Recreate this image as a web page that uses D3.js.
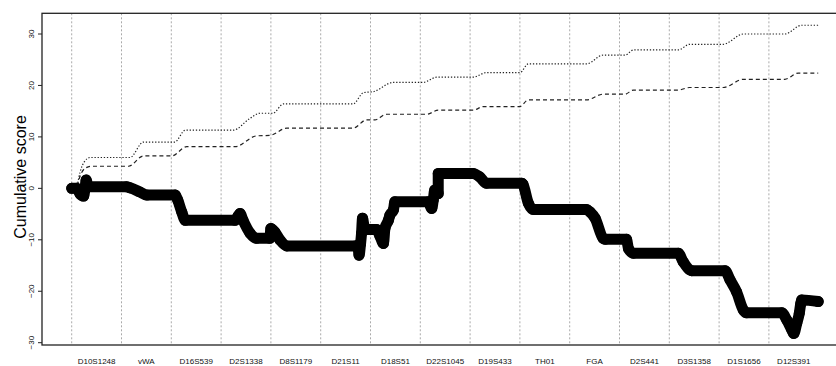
<!DOCTYPE html>
<html><head><meta charset="utf-8">
<script src="https://cdn.jsdelivr.net/npm/d3@7"></script>
<style>body{margin:0;background:#fff}svg{display:block}text{font-family:"Liberation Sans",Arial,sans-serif}</style>
</head><body><svg id="c" width="836" height="366"></svg>
<script>
const markers = ["D10S1248","vWA","D16S539","D2S1338","D8S1179","D21S11","D18S51","D22S1045","D19S433","TH01","FGA","D2S441","D3S1358","D1S1656","D12S391"];
const yTicks = [-30,-20,-10,0,10,20,30];

// cumulative score (x in marker units, y score)
const scoreX = [0,0.1,0.17,0.24,0.27,0.29,0.33,1.1,1.17,1.37,1.51,2.08,2.13,2.21,2.28,3.28,3.34,3.38,3.44,3.58,3.71,3.98,4.0,4.08,4.18,4.32,5.69,5.75,5.77,5.80,5.82,5.84,5.87,5.92,6.12,6.19,6.26,6.29,6.36,6.39,6.46,6.49,7.16,7.23,7.26,7.29,7.36,7.36,8.06,8.19,8.33,9.04,9.06,9.17,9.27,10.34,10.41,10.51,10.67,10.71,11.14,11.18,11.28,12.18,12.28,12.45,13.12,13.22,13.35,13.49,13.55,14.26,14.36,14.46,14.50,14.56,14.61,14.64,14.66,14.99];
const scoreY = [0,0,-1.1,-1.5,0.2,1.6,0.3,0.3,0.1,-0.7,-1.3,-1.3,-2.3,-4.6,-6.2,-6.2,-5.4,-4.9,-6.2,-8.7,-9.7,-9.7,-7.8,-8.5,-10.0,-11.2,-11.2,-11.35,-13.0,-10.8,-8.75,-5.8,-7.3,-8.0,-8.0,-9.3,-10.7,-7.8,-6.2,-5.2,-4.2,-2.6,-2.6,-3.9,-2.3,-0.3,-1.0,2.9,2.9,2.25,1.0,1.0,0.8,-2.9,-4.1,-4.1,-4.6,-5.8,-9.7,-9.9,-9.9,-11.7,-12.6,-12.6,-14.3,-16.0,-16.0,-17.8,-20.1,-23.7,-24.2,-24.2,-25.6,-27.5,-28.2,-26.2,-24.3,-22.4,-21.7,-22.0];

// upper threshold (dotted)
const upperX = [0.11,0.17,0.25,0.37,1.17,1.44,2.07,2.28,3.24,3.58,3.78,4.04,4.25,5.65,5.86,6.06,6.46,7.06,7.33,8.06,8.33,9.0,9.17,10.34,10.67,11.11,11.28,12.18,12.41,13.08,13.49,14.32,14.66,14.99];
const upperY = [0.45,3.2,5.1,6.0,6.0,9.0,9.0,11.3,11.3,13.6,14.6,14.6,16.4,16.4,18.6,18.8,20.6,20.6,21.6,21.6,22.5,22.5,24.2,24.2,25.9,25.9,26.9,26.9,28.0,28.0,30.0,30.0,31.7,31.7];

// lower threshold (dashed)
const lowerX = [0.11,0.17,0.27,0.40,1.14,1.44,2.01,2.31,3.28,3.71,3.98,4.32,5.65,5.92,6.09,6.32,7.13,7.36,8.06,8.27,9.0,9.17,10.34,10.67,11.11,11.28,12.18,12.41,13.08,13.49,14.32,14.59,14.99];
const lowerY = [0.45,2.4,3.9,4.3,4.3,6.3,6.3,8.1,8.1,10.2,10.3,11.7,11.7,13.3,13.3,14.4,14.4,15.2,15.2,15.9,15.9,17.2,17.2,18.3,18.3,19.1,19.1,19.6,19.6,21.2,21.2,22.4,22.4];

const svg = d3.select("#c");
const x = d3.scaleLinear().domain([0, 15]).range([71.7, 818.7]);
const y = d3.scaleLinear().domain([-30, 30]).range([342.7, 34]);
const pTop = 13.3, pBottom = 345, pLeft = 42, pRight = 880;

// vertical dotted marker boundaries
svg.append("g").selectAll("line").data(d3.range(markers.length)).join("line")
  .attr("x1", d => x(d)).attr("x2", d => x(d)).attr("y1", pTop).attr("y2", pBottom)
  .attr("stroke", "#aaa").attr("stroke-width", 1).attr("stroke-dasharray", "2,2");

// marker labels
svg.append("g").selectAll("text").data(markers).join("text")
  .attr("x", (d, i) => x(i + 0.5)).attr("y", 364).attr("text-anchor", "middle")
  .attr("font-size", 8).attr("fill", "#111").text(d => d);

const smooth = d3.line().x(d => x(d[0])).y(d => y(d[1])).curve(d3.curveMonotoneX);

svg.append("path").attr("d", smooth(d3.zip(upperX, upperY))).attr("fill", "none")
  .attr("stroke", "#222").attr("stroke-width", 1.2).attr("stroke-dasharray", "1.3,1.8");
svg.append("path").attr("d", smooth(d3.zip(lowerX, lowerY))).attr("fill", "none")
  .attr("stroke", "#222").attr("stroke-width", 1.2).attr("stroke-dasharray", "4,3");

const pts = d3.zip(scoreX, scoreY);
svg.append("path").attr("d", smooth(pts)).attr("fill", "none")
  .attr("stroke", "#000").attr("stroke-width", 11).attr("stroke-linejoin", "round").attr("stroke-linecap", "round");
svg.append("g").selectAll("circle").data(pts).join("circle")
  .attr("cx", d => x(d[0])).attr("cy", d => y(d[1])).attr("r", 4.5)
  .attr("fill", "#000").attr("stroke", "#000").attr("stroke-width", 2);

// frame
svg.append("rect").attr("x", pLeft).attr("y", pTop).attr("width", pRight - pLeft).attr("height", pBottom - pTop)
  .attr("fill", "none").attr("stroke", "#222").attr("stroke-width", 1.3);

// y axis ticks and labels
const ya = svg.append("g");
ya.selectAll("line").data(yTicks).join("line")
  .attr("x1", pLeft - 4).attr("x2", pLeft).attr("y1", d => y(d)).attr("y2", d => y(d)).attr("stroke", "#222");
ya.selectAll("text").data(yTicks).join("text")
  .attr("transform", d => `translate(34,${y(d)}) rotate(-90)`).attr("text-anchor", "middle")
  .attr("font-size", 8).attr("fill", "#111").text(d => d < 0 ? "\u2212" + Math.abs(d) : d);

svg.append("text").attr("transform", "translate(25.5,177) rotate(-90)").attr("text-anchor", "middle")
  .attr("font-size", 16).attr("fill", "#000").text("Cumulative score");
</script></body></html>
